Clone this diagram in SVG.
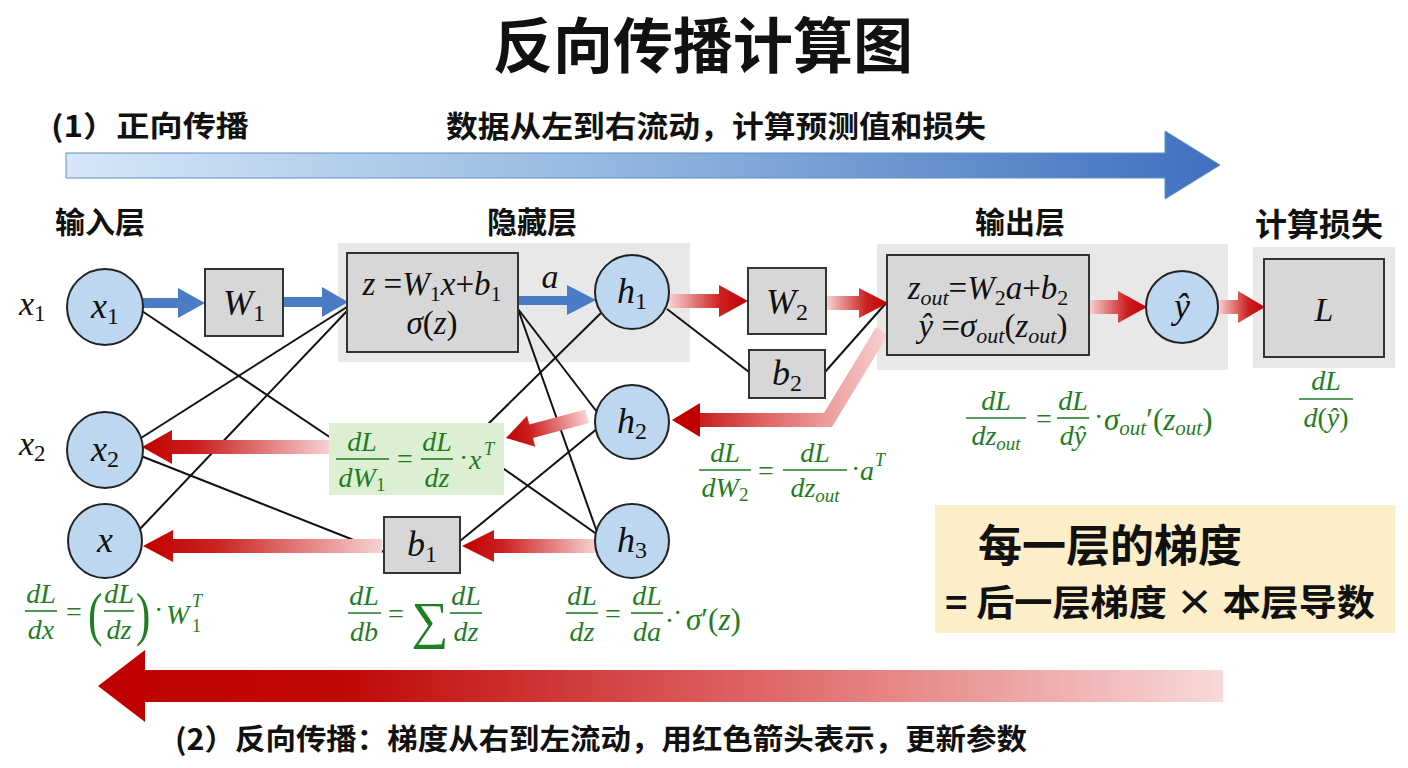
<svg xmlns="http://www.w3.org/2000/svg" width="1408" height="768" viewBox="0 0 1408 768">
<defs>
<linearGradient id="gBlueBig" x1="0" y1="0" x2="1" y2="0"><stop offset="0" stop-color="#d6e7f7"/><stop offset="0.5" stop-color="#8fb5df"/><stop offset="1" stop-color="#3f6fbf"/></linearGradient>
<linearGradient id="gRedBig" x1="0" y1="0" x2="1" y2="0"><stop offset="0" stop-color="#bf0000"/><stop offset="0.22" stop-color="#c00808"/><stop offset="0.6" stop-color="#e06868"/><stop offset="1" stop-color="#f8d9d9"/></linearGradient>
<linearGradient id="gRedL" x1="0" y1="0" x2="1" y2="0"><stop offset="0" stop-color="#c00000"/><stop offset="0.3" stop-color="#cc2020"/><stop offset="1" stop-color="#f8d2d2"/></linearGradient>
<linearGradient id="gRedR" x1="0" y1="0" x2="1" y2="0"><stop offset="0" stop-color="#f8d2d2"/><stop offset="0.65" stop-color="#cc2020"/><stop offset="1" stop-color="#c00000"/></linearGradient>
<linearGradient id="gBent" gradientUnits="userSpaceOnUse" x1="672" y1="0" x2="890" y2="0"><stop offset="0" stop-color="#c00000"/><stop offset="0.45" stop-color="#e06a6a"/><stop offset="1" stop-color="#f8d4d4"/></linearGradient>
<style>
.cjk{font-family:"Noto Sans CJK SC","Noto Sans",sans-serif;font-weight:700;fill:#111}
.m{font-family:"Liberation Serif",serif;font-style:italic;fill:#111}
.g{font-family:"Liberation Serif",serif;font-style:italic;fill:#1f7d24}
.u{font-style:normal}
.box{fill:#d7d7d7;stroke:#333;stroke-width:2}
.panel{fill:#e8e8e8}
.node{fill:#bcd7ef;stroke:#222;stroke-width:2}
.ln{stroke:#111;stroke-width:2;fill:none}
.fl{stroke:#1f7d24;stroke-width:1.6}
.blue{fill:#4a7cc6}
</style>
</defs>
<rect width="1408" height="768" fill="#ffffff"/>

<!-- title & flow labels -->
<text class="cjk" x="703" y="68" font-size="60" font-weight="900" text-anchor="middle">反向传播计算图</text>
<text class="cjk" x="51" y="137" font-size="29" textLength="198" lengthAdjust="spacingAndGlyphs">(1）正向传播</text>
<text class="cjk" x="446" y="137" font-size="30" textLength="540" lengthAdjust="spacingAndGlyphs">数据从左到右流动，计算预测值和损失</text>
<polygon points="66,153 1165,153 1165,131 1220,165 1165,199 1165,178 66,178" fill="url(#gBlueBig)" stroke="#5f8cc9" stroke-width="1"/>

<text class="cjk" x="55" y="233" font-size="30">输入层</text>
<text class="cjk" x="487" y="233" font-size="30">隐藏层</text>
<text class="cjk" x="975" y="233" font-size="30">输出层</text>
<text class="cjk" x="1255" y="236" font-size="32">计算损失</text>

<!-- panels -->
<rect class="panel" x="338" y="243" width="352" height="119"/>
<rect class="panel" x="877" y="244" width="351" height="126"/>
<rect class="panel" x="1253" y="247" width="142" height="121"/>

<!-- connectors -->
<g id="connectors">
<line class="ln" x1="142" y1="311" x2="340" y2="444"/>
<line class="ln" x1="494" y1="462" x2="598" y2="535"/>
<line class="ln" x1="347" y1="307" x2="141" y2="438"/>
<line class="ln" x1="347" y1="311" x2="139" y2="530"/>
<line class="ln" x1="141" y1="456" x2="384" y2="552"/>
<line class="ln" x1="518" y1="309" x2="597" y2="412"/>
<line class="ln" x1="518" y1="309" x2="597" y2="532"/>
<line class="ln" x1="602" y1="312" x2="480" y2="432"/>
<line class="ln" x1="460" y1="541" x2="598" y2="428"/>
<line class="ln" x1="667" y1="309" x2="749" y2="372"/>
<line class="ln" x1="825" y1="372" x2="887" y2="302"/>

<!-- blue forward arrows -->
<polygon class="blue" points="142,298 178,298 178,288 205,303 178,318 178,308 142,308"/>
<polygon class="blue" points="283,297 322,297 322,287 348,302 322,317 322,307 283,307"/>
<polygon class="blue" points="518,296 567,296 567,285 596,300 567,315 567,305 518,305"/>

<!-- red arrows -->
<polygon fill="url(#gRedR)" points="669,294 719,294 719,285 748,301 719,317 719,308 669,308"/>
<polygon fill="url(#gRedR)" points="827,296 859,296 859,288 888,303 859,318 859,310 827,310"/>
<polygon fill="url(#gRedR)" points="1089,300 1118,300 1118,291 1147,307 1118,323 1118,314 1089,314"/>
<polygon fill="url(#gRedR)" points="1218,300 1238,300 1238,291 1265,307 1238,323 1238,314 1218,314"/>
<polyline points="698,420 828,420 882,331" fill="none" stroke="url(#gBent)" stroke-width="14" stroke-linejoin="miter"/>
<polygon fill="#c00000" points="672,420 700,403 700,437"/>
<polygon fill="url(#gRedL)" transform="translate(506,438) rotate(-15)" points="0,0 26,-16 26,-7 84,-7 84,7 26,7 26,16"/>
<polygon fill="url(#gRedL)" points="142,447 172,430 172,440 330,440 330,454 172,454 172,464"/>
<polygon fill="url(#gRedL)" points="143,546 173,530 173,539 382,539 382,553 173,553 173,562"/>
<polygon fill="url(#gRedL)" points="462,546 494,530 494,539 596,539 596,553 494,553 494,562"/>
</g>

<!-- nodes -->
<g id="x1-node"><circle class="node" cx="105" cy="307" r="38"/><text class="m" x="105" y="318" font-size="36" text-anchor="middle">x<tspan class="u" font-size="24" dy="6">1</tspan></text></g>
<g id="x2-node"><circle class="node" cx="105" cy="450" r="38"/><text class="m" x="105" y="461" font-size="36" text-anchor="middle">x<tspan class="u" font-size="24" dy="6">2</tspan></text></g>
<g id="x-node"><circle class="node" cx="105" cy="541" r="37"/><text class="m" x="105" y="552" font-size="36" text-anchor="middle">x</text></g>
<text class="m" x="19" y="315" font-size="34">x<tspan class="u" font-size="23" dy="6">1</tspan></text>
<text class="m" x="19" y="455" font-size="34">x<tspan class="u" font-size="23" dy="6">2</tspan></text>

<g id="W1-node"><rect class="box" x="205" y="269" width="78" height="67"/><text class="m" x="244" y="315" font-size="36" text-anchor="middle">W<tspan class="u" font-size="24" dy="6">1</tspan></text></g>
<g id="z-node"><rect class="box" x="347" y="253" width="171" height="99"/>
<text class="m" x="432" y="295" font-size="33" text-anchor="middle">z <tspan class="u">=</tspan>W<tspan class="u" font-size="22" dy="6">1</tspan><tspan dy="-6">x</tspan><tspan class="u">+</tspan>b<tspan class="u" font-size="22" dy="6">1</tspan></text>
<text class="m" x="432" y="334" font-size="33" text-anchor="middle">σ<tspan class="u">(</tspan>z<tspan class="u">)</tspan></text></g>
<text class="m" x="550" y="288" font-size="34" text-anchor="middle">a</text>

<g id="h1-node"><circle class="node" cx="632" cy="292" r="37"/><text class="m" x="632" y="303" font-size="36" text-anchor="middle">h<tspan class="u" font-size="24" dy="6">1</tspan></text></g>
<g id="h2-node"><circle class="node" cx="632" cy="422" r="37"/><text class="m" x="632" y="433" font-size="36" text-anchor="middle">h<tspan class="u" font-size="24" dy="6">2</tspan></text></g>
<g id="h3-node"><circle class="node" cx="632" cy="541" r="37"/><text class="m" x="632" y="552" font-size="36" text-anchor="middle">h<tspan class="u" font-size="24" dy="6">3</tspan></text></g>

<g id="W2-node"><rect class="box" x="748" y="268" width="78" height="66"/><text class="m" x="787" y="314" font-size="36" text-anchor="middle">W<tspan class="u" font-size="24" dy="6">2</tspan></text></g>
<g id="b2-node"><rect class="box" x="749" y="350" width="76" height="48"/><text class="m" x="787" y="385" font-size="36" text-anchor="middle">b<tspan class="u" font-size="24" dy="6">2</tspan></text></g>
<g id="b1-node"><rect class="box" x="384" y="517" width="76" height="56"/><text class="m" x="422" y="556" font-size="36" text-anchor="middle">b<tspan class="u" font-size="24" dy="6">1</tspan></text></g>

<g id="zout-node"><rect class="box" x="887" y="255" width="202" height="100"/>
<text class="m" x="988" y="299" font-size="33" text-anchor="middle">z<tspan font-size="22" dy="6">out</tspan><tspan class="u" dy="-6">=</tspan>W<tspan class="u" font-size="22" dy="6">2</tspan><tspan dy="-6">a</tspan><tspan class="u">+</tspan>b<tspan class="u" font-size="22" dy="6">2</tspan></text>
<text class="m" x="993" y="337" font-size="33" text-anchor="middle">ŷ <tspan class="u">=</tspan>σ<tspan font-size="22" dy="6">out</tspan><tspan class="u" dy="-6">(</tspan>z<tspan font-size="22" dy="6">out</tspan><tspan class="u" dy="-6">)</tspan></text></g>
<g id="yhat-node"><circle class="node" cx="1182" cy="307" r="36"/><text class="m" x="1182" y="318" font-size="36" text-anchor="middle">ŷ</text></g>
<g id="L-node"><rect class="box" x="1264" y="259" width="120" height="98"/><text class="m" x="1324" y="321" font-size="34" text-anchor="middle">L</text></g>

<!-- green formula box -->
<g id="dW1-node" font-size="28"><rect x="329" y="423" width="175" height="72" fill="#dcefd2"/>
<text class="g" x="362" y="451" text-anchor="middle">dL</text><line class="fl" x1="336" y1="459" x2="389" y2="459"/>
<text class="g" x="362" y="487" text-anchor="middle">dW<tspan class="u" font-size="19" dy="4">1</tspan></text>
<text class="g u" x="405" y="468" text-anchor="middle">=</text>
<text class="g" x="437" y="451" text-anchor="middle">dL</text><line class="fl" x1="421" y1="459" x2="453" y2="459"/>
<text class="g" x="437" y="487" text-anchor="middle">dz</text>
<text class="g u" x="459" y="467">·</text><text class="g" x="469" y="469">x</text><text class="g" x="484" y="455" font-size="18">T</text></g>

<!-- formula under x -->
<g id="f-dx" font-size="28">
<text class="g" x="41" y="603" text-anchor="middle">dL</text><line class="fl" x1="25" y1="611" x2="57" y2="611"/>
<text class="g" x="41" y="639" text-anchor="middle">dx</text>
<text class="g u" x="74" y="621" text-anchor="middle">=</text>
<text class="g u" x="88" y="634" font-size="54" transform="translate(88 634) scale(0.8 1.1) translate(-88 -634)">(</text>
<text class="g" x="119" y="603" text-anchor="middle">dL</text><line class="fl" x1="104" y1="611" x2="134" y2="611"/>
<text class="g" x="119" y="639" text-anchor="middle">dz</text>
<text class="g u" x="136" y="634" font-size="54" transform="translate(136 634) scale(0.8 1.1) translate(-136 -634)">)</text>
<text class="g u" x="154" y="619">·</text><text class="g" x="166" y="624">W</text>
<text class="g" x="192" y="607" font-size="18">T</text><text class="g u" x="192" y="632" font-size="18">1</text>
</g>

<!-- formula under b1 -->
<g id="f-db" font-size="28">
<text class="g" x="364" y="605" text-anchor="middle">dL</text><line class="fl" x1="348" y1="613" x2="381" y2="613"/>
<text class="g" x="364" y="641" text-anchor="middle">db</text>
<text class="g u" x="396" y="623" text-anchor="middle">=</text>
<text class="g u" x="430" y="638" font-size="52" text-anchor="middle">∑</text>
<text class="g" x="466" y="605" text-anchor="middle">dL</text><line class="fl" x1="450" y1="613" x2="482" y2="613"/>
<text class="g" x="466" y="641" text-anchor="middle">dz</text>
</g>

<!-- formula under h3 -->
<g id="f-dz" font-size="28">
<text class="g" x="582" y="605" text-anchor="middle">dL</text><line class="fl" x1="566" y1="613" x2="598" y2="613"/>
<text class="g" x="582" y="641" text-anchor="middle">dz</text>
<text class="g u" x="613" y="623" text-anchor="middle">=</text>
<text class="g" x="647" y="605" text-anchor="middle">dL</text><line class="fl" x1="631" y1="613" x2="663" y2="613"/>
<text class="g" x="647" y="641" text-anchor="middle">da</text>
<text class="g u" x="666" y="622">.·</text>
<text class="g" x="686" y="630" font-size="31">σ<tspan class="u">′(</tspan>z<tspan class="u">)</tspan></text>
</g>

<!-- formula dW2 -->
<g id="f-dW2" font-size="28">
<text class="g" x="725" y="462" text-anchor="middle">dL</text><line class="fl" x1="699" y1="470" x2="751" y2="470"/>
<text class="g" x="725" y="497" text-anchor="middle">dW<tspan class="u" font-size="19" dy="4">2</tspan></text>
<text class="g u" x="766" y="480" text-anchor="middle">=</text>
<text class="g" x="815" y="462" text-anchor="middle">dL</text><line class="fl" x1="783" y1="470" x2="847" y2="470"/>
<text class="g" x="815" y="497" text-anchor="middle">dz<tspan font-size="19" dy="5">out</tspan></text>
<text class="g u" x="851" y="478">·</text><text class="g" x="860" y="480">a</text><text class="g" x="875" y="466" font-size="18">T</text>
</g>

<!-- formula dz_out -->
<g id="f-dzout" font-size="28">
<text class="g" x="996" y="410" text-anchor="middle">dL</text><line class="fl" x1="966" y1="418" x2="1026" y2="418"/>
<text class="g" x="996" y="445" text-anchor="middle">dz<tspan font-size="19" dy="5">out</tspan></text>
<text class="g u" x="1044" y="428" text-anchor="middle">=</text>
<text class="g" x="1073" y="410" text-anchor="middle">dL</text><line class="fl" x1="1057" y1="418" x2="1089" y2="418"/>
<text class="g" x="1073" y="445" text-anchor="middle">dŷ</text>
<text class="g u" x="1094" y="426">·</text>
<text class="g" x="1104" y="430" font-size="31">σ<tspan font-size="21" dy="5">out</tspan><tspan class="u" dy="-5">′(</tspan>z<tspan font-size="21" dy="5">out</tspan><tspan class="u" dy="-5">)</tspan></text>
</g>

<!-- formula dL/dyhat -->
<g id="f-dyhat" font-size="28">
<text class="g" x="1326" y="390" text-anchor="middle">dL</text><line class="fl" x1="1299" y1="399" x2="1353" y2="399"/>
<text class="g" x="1326" y="427" text-anchor="middle">d<tspan class="u">(</tspan>ŷ<tspan class="u">)</tspan></text>
</g>

<!-- summary box -->
<g id="summary"><rect x="935" y="505" width="460" height="128" fill="#fbeec8"/>
<text class="cjk" x="978" y="562" font-size="44">每一层的梯度</text>
<text class="cjk" x="945" y="616" font-size="36" textLength="430" lengthAdjust="spacingAndGlyphs">= 后一层梯度 × 本层导数</text></g>

<!-- backward big arrow -->
<polygon points="98,686 145,650 145,670 1223,670 1223,702 145,702 145,722" fill="url(#gRedBig)"/>
<text class="cjk" x="175" y="750" font-size="29" textLength="852" lengthAdjust="spacingAndGlyphs">(2）反向传播：梯度从右到左流动，用红色箭头表示，更新参数</text>
</svg>
